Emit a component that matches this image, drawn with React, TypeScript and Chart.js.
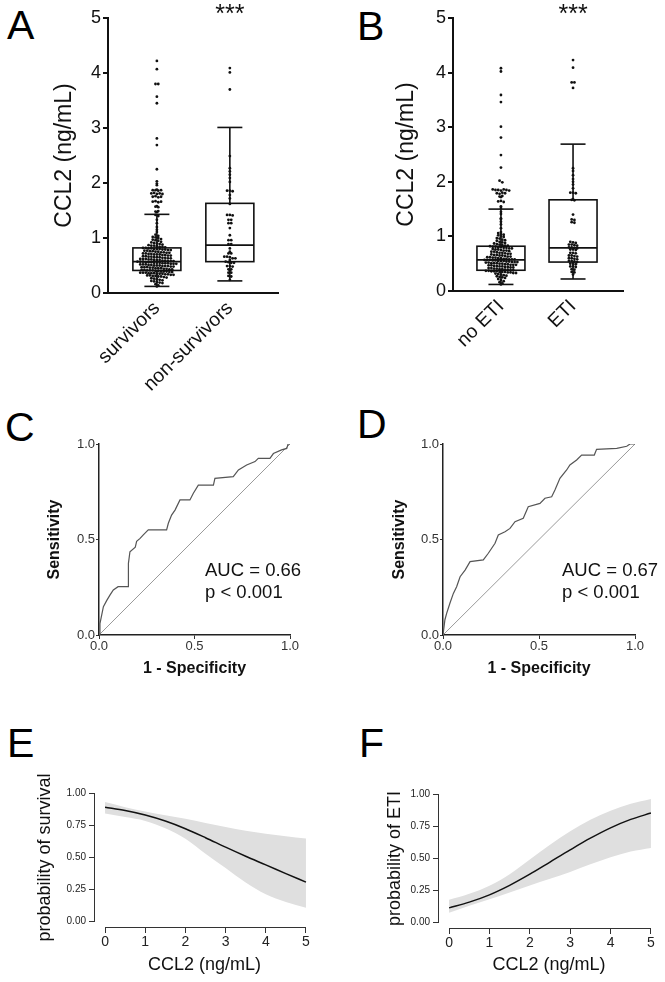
import React, { useEffect, useRef } from 'react';
import { Chart, registerables } from 'chart.js';
Chart.register(...registerables);

const FONT = "'Liberation Sans', Arial, Helvetica, sans-serif";
Chart.defaults.font.family = FONT;
Chart.defaults.color = '#111';

// ---------- Panel A data ----------
const groupsA = ['survivors', 'non-survivors'];
const survivorsCCL2 = [
  4.22, 4.07, 3.8, 3.8, 3.57, 3.45, 2.81, 2.69, 2.25, 2.03, 1.99, 1.96, 1.87, 1.87, 1.86, 1.88, 1.87,
  1.81, 1.82, 1.8, 1.81, 1.8, 1.75, 1.76, 1.74, 1.75, 1.66, 1.67, 1.65, 1.66, 1.57, 1.58, 1.56, 1.48,
  1.49, 1.47, 1.42, 1.4, 1.33, 1.27, 1.2, 1.15, 1.11, 1.06, 1.04, 1.02, 1.01,
  1.0, 0.98, 0.97, 0.96, 0.95, 0.93, 0.92, 0.91, 0.9, 0.89, 0.88, 0.87, 0.86, 0.86, 0.85, 0.84, 0.84,
  0.83, 0.82, 0.82, 0.81, 0.81, 0.8, 0.8, 0.8, 0.79, 0.79, 0.78, 0.78, 0.77, 0.77, 0.76, 0.76, 0.75,
  0.75, 0.74, 0.74, 0.73, 0.73, 0.72, 0.72, 0.71, 0.71, 0.7, 0.7, 0.7, 0.69, 0.69, 0.68, 0.68, 0.67,
  0.67, 0.66, 0.66, 0.65, 0.65, 0.65, 0.64, 0.64, 0.63, 0.63, 0.62, 0.62, 0.62, 0.61, 0.61, 0.6, 0.6,
  0.6, 0.59, 0.59, 0.58, 0.58, 0.58, 0.57, 0.57, 0.57, 0.56, 0.56, 0.56, 0.55, 0.55, 0.55, 0.54, 0.54,
  0.54, 0.53, 0.53, 0.53, 0.52, 0.52, 0.52, 0.51, 0.51, 0.5, 0.5, 0.5, 0.49, 0.49, 0.49, 0.48, 0.48,
  0.47, 0.47, 0.47, 0.46, 0.46, 0.45, 0.45, 0.45, 0.44, 0.44, 0.43, 0.43, 0.42, 0.42, 0.41, 0.41, 0.41,
  0.4, 0.4, 0.39, 0.39, 0.39, 0.38, 0.38, 0.37, 0.37, 0.37, 0.36, 0.36, 0.36, 0.35, 0.35, 0.35, 0.34,
  0.34, 0.33, 0.33, 0.32, 0.32, 0.31, 0.31, 0.3, 0.3, 0.29, 0.28, 0.27, 0.26, 0.25, 0.24, 0.23, 0.22,
  0.21, 0.2, 0.19, 0.18, 0.16, 0.14, 0.12,
];
const nonSurvivorsCCL2 = [
  4.09, 4.01, 3.7, 2.49, 2.27, 2.21, 2.15, 2.09, 2.02, 1.86, 1.86, 1.85, 1.78, 1.72, 1.62, 1.42, 1.42,
  1.41, 1.33, 1.33, 1.27, 1.27, 1.18, 1.05, 0.96, 0.96, 0.89, 0.89, 0.81, 0.75, 0.72, 0.72, 0.66, 0.66,
  0.65, 0.63, 0.63, 0.6, 0.57, 0.56, 0.55, 0.55, 0.49, 0.49, 0.48, 0.43, 0.43, 0.41, 0.37, 0.37, 0.31,
  0.3, 0.24,
];
const boxStatsA = [
  { min: 0.12, q1: 0.41, median: 0.57, q3: 0.82, max: 1.43 },
  { min: 0.22, q1: 0.57, median: 0.87, q3: 1.63, max: 3.01 },
];

// ---------- Panel B data ----------
const groupsB = ['no ETI', 'ETI'];
const noEtiCCL2 = [
  4.08, 4.02, 3.59, 3.46, 3.01, 2.81, 2.49, 2.26, 2.02, 1.99, 1.86, 1.85, 1.85, 1.84, 1.86, 1.85, 1.84,
  1.79, 1.78, 1.8, 1.79, 1.73, 1.72, 1.74, 1.64, 1.65, 1.63, 1.55, 1.52, 1.45, 1.41, 1.33, 1.32, 1.27,
  1.22, 1.15, 1.08, 1.06, 1.04, 1.03, 1.02,
  1.0, 0.99, 0.97, 0.96, 0.94, 0.93, 0.92, 0.9, 0.89, 0.88, 0.87, 0.86, 0.85, 0.84, 0.83, 0.83, 0.82,
  0.81, 0.81, 0.8, 0.8, 0.79, 0.79, 0.78, 0.78, 0.77, 0.76, 0.76, 0.75, 0.74, 0.74, 0.73, 0.72, 0.72,
  0.71, 0.7, 0.7, 0.69, 0.68, 0.68, 0.67, 0.66, 0.66, 0.65, 0.65, 0.64, 0.63, 0.63, 0.62, 0.62, 0.61,
  0.61, 0.6, 0.6, 0.59, 0.59, 0.58, 0.58, 0.58, 0.57, 0.57, 0.57, 0.56, 0.56, 0.55, 0.55, 0.55, 0.54,
  0.54, 0.53, 0.53, 0.53, 0.52, 0.52, 0.51, 0.51, 0.51, 0.5, 0.5, 0.49, 0.49, 0.48, 0.48, 0.48, 0.47,
  0.47, 0.46, 0.46, 0.45, 0.45, 0.44, 0.44, 0.43, 0.43, 0.42, 0.42, 0.41, 0.41, 0.4, 0.4, 0.39, 0.39,
  0.38, 0.38, 0.37, 0.37, 0.36, 0.36, 0.36, 0.35, 0.35, 0.35, 0.34, 0.34, 0.33, 0.33, 0.32, 0.31, 0.3,
  0.29, 0.28, 0.27, 0.26, 0.25, 0.24, 0.22, 0.2, 0.18, 0.16, 0.14, 0.12,
];
const etiCCL2 = [
  4.23, 4.09, 3.82, 3.82, 3.72, 2.25, 2.2, 2.12, 2.05, 2.0, 1.95, 1.88, 1.8, 1.8, 1.79, 1.68, 1.67,
  1.66, 1.4, 1.31, 1.3, 1.26, 1.25, 0.9, 0.89, 0.88, 0.85, 0.85, 0.84, 0.83, 0.8, 0.8, 0.79, 0.78,
  0.76, 0.76, 0.75, 0.7, 0.7, 0.69, 0.65, 0.65, 0.64, 0.63, 0.6, 0.6, 0.59, 0.58, 0.55, 0.55, 0.54,
  0.53, 0.5, 0.5, 0.49, 0.45, 0.45, 0.44, 0.4, 0.39, 0.35, 0.34, 0.3,
];
const boxStatsB = [
  { min: 0.12, q1: 0.38, median: 0.57, q3: 0.82, max: 1.5 },
  { min: 0.22, q1: 0.53, median: 0.79, q3: 1.67, max: 2.69 },
];
const ccl2AxisTicks = [0, 1, 2, 3, 4, 5];

// ---------- Panels C / D (ROC) ----------
const rocTicks = [0, 0.5, 1];
const rocC_fpr = [0, 0.005, 0.023, 0.04, 0.058, 0.075, 0.1, 0.154, 0.154, 0.162, 0.19, 0.197, 0.215, 0.232, 0.258, 0.354, 0.363, 0.38, 0.398, 0.424, 0.476, 0.494, 0.52, 0.599, 0.607, 0.703, 0.73, 0.773, 0.817, 0.834, 0.895, 0.913, 0.956, 0.983, 0.99, 1];
const rocC_tpr = [0, 0.06, 0.148, 0.18, 0.21, 0.236, 0.253, 0.253, 0.375, 0.436, 0.46, 0.49, 0.506, 0.524, 0.55, 0.55, 0.585, 0.628, 0.654, 0.707, 0.707, 0.742, 0.785, 0.785, 0.82, 0.829, 0.864, 0.89, 0.908, 0.925, 0.925, 0.95, 0.969, 0.977, 1, 1];
const rocD_fpr = [0, 0.01, 0.019, 0.036, 0.054, 0.071, 0.089, 0.115, 0.141, 0.21, 0.236, 0.271, 0.288, 0.323, 0.349, 0.375, 0.418, 0.444, 0.505, 0.531, 0.566, 0.583, 0.609, 0.644, 0.661, 0.696, 0.722, 0.788, 0.8, 0.905, 0.957, 0.974, 1];
const rocD_tpr = [0, 0.08, 0.113, 0.166, 0.218, 0.253, 0.305, 0.34, 0.384, 0.393, 0.428, 0.48, 0.524, 0.541, 0.558, 0.593, 0.611, 0.672, 0.689, 0.716, 0.724, 0.759, 0.82, 0.864, 0.89, 0.916, 0.942, 0.942, 0.972, 0.977, 0.988, 1, 1];
const aucC = ['AUC = 0.66', 'p < 0.001'];
const aucD = ['AUC = 0.67', 'p < 0.001'];

// ---------- Panels E / F (logistic fits) ----------
const ccl2Grid = [0, 0.5, 1, 1.5, 2, 2.5, 3, 3.5, 4, 4.5, 5];
const survivalFit = [0.89, 0.864, 0.829, 0.782, 0.722, 0.652, 0.578, 0.507, 0.44, 0.372, 0.305];
const survivalUpper = [0.93, 0.89, 0.857, 0.828, 0.8, 0.767, 0.735, 0.706, 0.683, 0.663, 0.645];
const survivalLower = [0.84, 0.813, 0.783, 0.725, 0.644, 0.527, 0.415, 0.302, 0.21, 0.15, 0.105];
const etiFit = [0.112, 0.157, 0.214, 0.288, 0.375, 0.47, 0.565, 0.656, 0.737, 0.803, 0.852];
const etiUpper = [0.175, 0.222, 0.285, 0.375, 0.49, 0.605, 0.71, 0.8, 0.87, 0.925, 0.962];
const etiLower = [0.075, 0.128, 0.18, 0.233, 0.287, 0.339, 0.392, 0.452, 0.507, 0.552, 0.58];
const probTicks = [0, 0.25, 0.5, 0.75, 1];

// ---------- helpers ----------
function swarm(values: number[], center: number, rowH: number, step: number) {
  const rows: Record<string, number[]> = {};
  values.forEach((v) => {
    const k = String(Math.round(v / rowH));
    (rows[k] = rows[k] || []).push(v);
  });
  const pts: { x: number; y: number }[] = [];
  Object.values(rows).forEach((row) => {
    const n = row.length;
    row.forEach((v, j) => pts.push({ x: center + (j - (n - 1) / 2) * step, y: v }));
  });
  return pts;
}

function setTicks(values: number[]) {
  return (scale: any) => {
    scale.ticks = values.map((v) => ({ value: v }));
  };
}

function boxPlugin(stats: any[], starsAt: number) {
  return {
    id: 'boxPlot',
    beforeDatasetsDraw(chart: any) {
      const { ctx, scales } = chart;
      const x = scales.x, y = scales.y;
      ctx.save();
      ctx.strokeStyle = '#111';
      ctx.lineWidth = 1.6;
      const hw = 24, cw = 12.5;
      const line = (x1: number, y1: number, x2: number, y2: number) => {
        ctx.beginPath(); ctx.moveTo(x1, y1); ctx.lineTo(x2, y2); ctx.stroke();
      };
      stats.forEach((s, i) => {
        const cx = x.getPixelForValue(i + 1);
        const p = (v: number) => y.getPixelForValue(v);
        ctx.strokeRect(cx - hw, p(s.q3), 2 * hw, p(s.q1) - p(s.q3));
        line(cx - hw, p(s.median), cx + hw, p(s.median));
        line(cx, p(s.q3), cx, p(s.max));
        line(cx - cw, p(s.max), cx + cw, p(s.max));
        line(cx, p(s.q1), cx, p(s.min));
        line(cx - cw, p(s.min), cx + cw, p(s.min));
      });
      ctx.restore();
    },
    afterDraw(chart: any) {
      const { ctx, scales, chartArea } = chart;
      ctx.save();
      ctx.fillStyle = '#111';
      ctx.font = '25px ' + FONT;
      ctx.textAlign = 'center';
      ctx.textBaseline = 'alphabetic';
      ctx.fillText('***', scales.x.getPixelForValue(starsAt), chartArea.top + 4);
      ctx.restore();
    },
  };
}

function boxChart(o: any) {
  const datasets = o.series.map((vals: number[], i: number) => ({
    data: swarm(vals, i + 1, 0.05, 0.038),
    pointRadius: 1.4,
    pointBackgroundColor: '#111',
    pointBorderWidth: 0,
  }));
  return {
    type: 'scatter',
    data: { datasets },
    options: {
      responsive: false,
      animation: false,
      events: [],
      layout: { padding: { top: o.padTop, right: o.padRight, left: 0, bottom: 0 } },
      plugins: { legend: { display: false }, tooltip: { enabled: false } },
      scales: {
        x: {
          type: 'linear', min: o.xMin, max: o.xMax,
          afterFit: (s: any) => { s.height = o.xHeight; },
          afterBuildTicks: setTicks(o.groups.map((_: string, i: number) => i + 1)),
          ticks: {
            callback: (_v: any, i: number) => o.groups[i],
            minRotation: 45, maxRotation: 45, autoSkip: false,
            font: { size: 19.5 }, color: '#111', padding: 4,
          },
          grid: { display: false, drawTicks: false },
          border: { display: true, color: '#111', width: 2 },
        },
        y: {
          min: 0, max: 5,
          afterFit: (s: any) => { s.width = o.yWidth; },
          afterBuildTicks: setTicks(ccl2AxisTicks),
          ticks: { font: { size: 18 }, color: '#111', padding: 2 },
          grid: { display: true, drawOnChartArea: false, drawTicks: true, tickLength: 5, color: '#111', lineWidth: 2 },
          border: { display: true, color: '#111', width: 2 },
          title: { display: true, text: 'CCL2 (ng/mL)', font: { size: 23 }, color: '#111', padding: 0 },
        },
      },
    },
    plugins: [boxPlugin(o.stats, 2)],
  };
}

function rocChart(o: any) {
  const pts = o.fpr.map((f: number, i: number) => ({ x: f, y: o.tpr[i] }));
  return {
    type: 'scatter',
    data: {
      datasets: [
        { data: pts, showLine: true, borderColor: '#555', borderWidth: 1.2, pointRadius: 0 },
        { data: [{ x: 0, y: 0 }, { x: 1, y: 1 }], showLine: true, borderColor: '#9a9a9a', borderWidth: 1, pointRadius: 0 },
      ],
    },
    options: {
      responsive: false,
      animation: false,
      events: [],
      layout: { padding: { top: o.padTop, right: o.padRight, left: 0, bottom: 2 } },
      plugins: { legend: { display: false }, tooltip: { enabled: false } },
      scales: {
        x: {
          type: 'linear', min: 0, max: 1,
          afterFit: (s: any) => { s.height = 43; },
          afterBuildTicks: setTicks(rocTicks),
          ticks: { callback: (v: number) => v.toFixed(1), font: { size: 13 }, color: '#333', padding: 0 },
          grid: { display: true, drawOnChartArea: false, tickLength: 4, color: '#333', lineWidth: 1 },
          border: { display: true, color: '#222', width: 1.5 },
          title: { display: true, text: '1 - Specificity', font: { size: 16, weight: 'bold' }, color: '#111', padding: 0 },
        },
        y: {
          type: 'linear', min: 0, max: 1,
          afterFit: (s: any) => { s.width = o.yWidth; },
          afterBuildTicks: setTicks(rocTicks),
          ticks: { callback: (v: number) => v.toFixed(1), font: { size: 13 }, color: '#333', padding: 1 },
          grid: { display: true, drawOnChartArea: false, tickLength: 3, color: '#333', lineWidth: 1 },
          border: { display: true, color: '#222', width: 1.5 },
          title: { display: true, text: 'Sensitivity', font: { size: 16, weight: 'bold' }, color: '#111', padding: 0 },
        },
      },
    },
  };
}

const rAxesPlugin = {
  id: 'rAxes',
  afterDraw(chart: any) {
    const { ctx, chartArea: a, scales } = chart;
    const x = scales.x, y = scales.y;
    ctx.save();
    ctx.strokeStyle = '#333';
    ctx.lineWidth = 1;
    ctx.beginPath();
    ctx.moveTo(a.left - 0.5, y.getPixelForValue(probTicks[0]));
    ctx.lineTo(a.left - 0.5, y.getPixelForValue(probTicks[probTicks.length - 1]));
    ctx.moveTo(x.getPixelForValue(ccl2AxisTicks[0]), a.bottom + 0.5);
    ctx.lineTo(x.getPixelForValue(ccl2AxisTicks[ccl2AxisTicks.length - 1]), a.bottom + 0.5);
    ctx.stroke();
    ctx.restore();
  },
};

function probChart(o: any) {
  const pts = (arr: number[]) => ccl2Grid.map((x, i) => ({ x, y: arr[i] }));
  return {
    type: 'line',
    data: {
      datasets: [
        { data: pts(o.lower), order: 2, borderWidth: 0, borderColor: 'rgba(0,0,0,0)', pointRadius: 0, fill: false, cubicInterpolationMode: 'monotone' },
        { data: pts(o.upper), order: 1, borderWidth: 0, borderColor: 'rgba(0,0,0,0)', pointRadius: 0, fill: '-1', backgroundColor: '#dfdfdf', cubicInterpolationMode: 'monotone' },
        { data: pts(o.fit), order: 0, borderWidth: 1.5, borderColor: '#111', pointRadius: 0, fill: false, cubicInterpolationMode: 'monotone' },
      ],
    },
    options: {
      responsive: false,
      animation: false,
      events: [],
      layout: { padding: { top: o.padTop, right: o.padRight, left: 0, bottom: 6 } },
      plugins: { legend: { display: false }, tooltip: { enabled: false }, filler: { drawTime: 'beforeDatasetsDraw' } },
      scales: {
        x: {
          type: 'linear', min: -0.25, max: 5.2,
          afterFit: (s: any) => { s.height = o.xHeight; },
          afterBuildTicks: setTicks(ccl2AxisTicks),
          ticks: { font: { size: 14 }, color: '#222', padding: 1 },
          grid: { display: true, drawOnChartArea: false, tickLength: 6, color: '#333', lineWidth: 1 },
          border: { display: false },
          title: { display: true, text: 'CCL2 (ng/mL)', font: { size: 18 }, color: '#111', padding: 0 },
        },
        y: {
          type: 'linear', min: -0.045, max: 1.04,
          afterFit: (s: any) => { s.width = o.yWidth; },
          afterBuildTicks: setTicks(probTicks),
          ticks: { callback: (v: number) => v.toFixed(2), font: { size: 10 }, color: '#222', padding: 3 },
          grid: { display: true, drawOnChartArea: false, tickLength: 6, color: '#333', lineWidth: 1 },
          border: { display: false },
          title: { display: true, text: o.yTitle, font: { size: 18 }, color: '#111', padding: 0 },
        },
      },
    },
    plugins: [rAxesPlugin],
  };
}

function Panel({ left, top, width, height, make }: any) {
  const ref = useRef<HTMLCanvasElement>(null);
  useEffect(() => {
    const chart = new Chart(ref.current as HTMLCanvasElement, make());
    return () => chart.destroy();
  }, []);
  return (
    <canvas
      ref={ref}
      width={width}
      height={height}
      style={{ position: 'absolute', left, top, width, height }}
    />
  );
}

const letterStyle = (left: number, top: number): React.CSSProperties => ({
  position: 'absolute', left, top, fontFamily: FONT, fontSize: 41, lineHeight: '41px', color: '#000',
});
const aucStyle = (left: number, top: number): React.CSSProperties => ({
  position: 'absolute', left, top, fontFamily: FONT, fontSize: 18.5, lineHeight: '22px', color: '#111', whiteSpace: 'nowrap',
});

export default function App() {
  return (
    <div style={{ position: 'absolute', left: 0, top: 0, width: 665, height: 982, background: '#fff', overflow: 'hidden' }}>
      <Panel left={51} top={0} width={249} height={400} make={() => boxChart({
        groups: groupsA, series: [survivorsCCL2, nonSurvivorsCCL2], stats: boxStatsA,
        xMin: 0.33, xMax: 2.66, yWidth: 57, xHeight: 107, padTop: 18, padRight: 22,
      })} />
      <Panel left={393} top={0} width={252} height={400} make={() => boxChart({
        groups: groupsB, series: [noEtiCCL2, etiCCL2], stats: boxStatsB,
        xMin: 0.335, xMax: 2.693, yWidth: 60, xHeight: 109, padTop: 18, padRight: 22,
      })} />
      <Panel left={45} top={400} width={275} height={280} make={() => rocChart({
        fpr: rocC_fpr, tpr: rocC_tpr, yWidth: 54, padTop: 44, padRight: 30,
      })} />
      <Panel left={390} top={400} width={270} height={280} make={() => rocChart({
        fpr: rocD_fpr, tpr: rocD_tpr, yWidth: 53, padTop: 44, padRight: 25,
      })} />
      <Panel left={34} top={770} width={296} height={212} make={() => probChart({
        fit: survivalFit, lower: survivalLower, upper: survivalUpper, yTitle: 'probability of survival',
        yWidth: 61, xHeight: 49, padTop: 18, padRight: 16,
      })} />
      <Panel left={384} top={770} width={281} height={212} make={() => probChart({
        fit: etiFit, lower: etiLower, upper: etiUpper, yTitle: 'probability of ETI',
        yWidth: 55, xHeight: 48, padTop: 19, padRight: 6,
      })} />

      <div style={aucStyle(205, 559)}>{aucC[0]}<br />{aucC[1]}</div>
      <div style={aucStyle(562, 559)}>{aucD[0]}<br />{aucD[1]}</div>

      <div style={letterStyle(7, 5)}>A</div>
      <div style={letterStyle(357, 6)}>B</div>
      <div style={letterStyle(5, 407)}>C</div>
      <div style={letterStyle(357, 404)}>D</div>
      <div style={letterStyle(7, 723)}>E</div>
      <div style={letterStyle(359, 723)}>F</div>
    </div>
  );
}
